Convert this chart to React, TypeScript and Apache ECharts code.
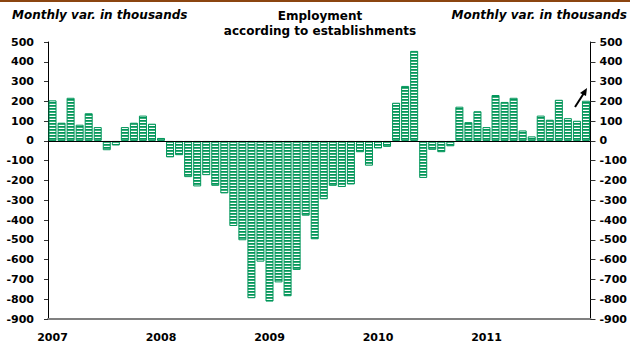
import React, { useEffect, useRef } from "react";
import * as echarts from "echarts";

const years = ["2007", "2008", "2009", "2010", "2011"];
const monthsPerYear = 12;

const employmentChange = [
  205, 92, 218, 82, 140, 70, -47, -23, 70, 92, 128, 87,
  15, -83, -72, -183, -230, -173, -227, -265, -430, -502, -795, -610,
  -812, -715, -785, -652, -378, -497, -295, -227, -233, -220, -57, -125,
  -38, -30, 193, 278, 455, -187, -45, -57, -27, 173, 95, 150,
  70, 232, 197, 218, 53, 23, 128, 107, 208, 115, 102, 203,
];

const yMin = -900;
const yMax = 500;
const yStep = 100;

const title = "Employment\naccording to establishments";
const unitLabel = "Monthly var. in thousands";

const GREEN = "#00965a";

function makeStripes(): HTMLCanvasElement {
  const c = document.createElement("canvas");
  c.width = 4;
  c.height = 3;
  const ctx = c.getContext("2d")!;
  ctx.fillStyle = "#ffffff";
  ctx.fillRect(0, 0, 4, 3);
  ctx.fillStyle = GREEN;
  ctx.fillRect(0, 0, 4, 1);
  ctx.fillStyle = "#3aab78";
  ctx.fillRect(0, 1, 4, 1);
  return c;
}

export default function App() {
  const ref = useRef<HTMLDivElement>(null);
  useEffect(() => {
    document.body.style.margin = "0";
    if (!ref.current) return;
    const chart = echarts.init(ref.current, undefined, { renderer: "svg" });
    const categories: string[] = [];
    years.forEach((y) => {
      for (let m = 1; m <= monthsPerYear; m++) categories.push(`${y}-${m}`);
    });
    const font = "'DejaVu Sans', Verdana, sans-serif";
    const yLabel = { fontSize: 11, fontWeight: "bold", color: "#000", fontFamily: font };
    chart.setOption({
      animation: false,
      backgroundColor: "#fff",
      grid: { left: 48, right: 37, top: 42, bottom: 26, containLabel: false },
      xAxis: {
        type: "category",
        data: categories,
        axisLine: { onZero: false, lineStyle: { color: "#808080", width: 2 } },
        axisTick: { show: false },
        axisLabel: {
          interval: (idx: number) => idx % monthsPerYear === 0,
          formatter: (v: string) => v.split("-")[0],
          fontSize: 11,
          fontWeight: "bold",
          color: "#000",
          fontFamily: font,
          margin: 13,
        },
        splitLine: { show: false },
      },
      yAxis: [
        {
          type: "value",
          min: yMin,
          max: yMax,
          interval: yStep,
          position: "left",
          axisLine: { show: true, lineStyle: { color: "#000", width: 1 } },
          axisTick: { show: true, length: 4, lineStyle: { color: "#333" } },
          axisLabel: { ...yLabel, margin: 14 },
          splitLine: { show: false },
        },
        {
          type: "value",
          min: yMin,
          max: yMax,
          interval: yStep,
          position: "right",
          axisLine: { show: true, lineStyle: { color: "#000", width: 1 } },
          axisTick: { show: true, length: 5, lineStyle: { color: "#333" } },
          axisLabel: { ...yLabel, margin: 9 },
          splitLine: { show: false },
        },
      ],
      series: [
        {
          type: "bar",
          data: employmentChange,
          barWidth: 8,
          itemStyle: {
            color: { image: makeStripes(), repeat: "repeat" },
            borderColor: GREEN,
            borderWidth: 1,
          },
          markLine: {
            silent: true,
            symbol: "none",
            label: { show: false },
            lineStyle: { color: "#000", width: 1, type: "solid" },
            data: [{ yAxis: 0 }],
          },
        },
      ],
      graphic: [
        {
          type: "rect",
          left: 0,
          top: 0,
          shape: { width: 630, height: 2 },
          style: { fill: "#8b4510" },
        },
        {
          type: "text",
          left: 12,
          top: 9,
          style: {
            text: unitLabel,
            font: `italic bold 12px ${font}`,
            fill: "#000",
          },
        },
        {
          type: "text",
          right: 3,
          top: 9,
          style: {
            text: unitLabel,
            font: `italic bold 12px ${font}`,
            fill: "#000",
          },
        },
        {
          type: "text",
          x: 320,
          y: 8,
          style: {
            text: title,
            font: `bold 12px ${font}`,
            fill: "#000",
            align: "center",
            lineHeight: 15,
          },
        },
        {
          type: "line",
          shape: { x1: 575, y1: 107, x2: 584, y2: 93 },
          style: { stroke: "#000", lineWidth: 2 },
        },
        {
          type: "polygon",
          shape: { points: [[587, 88], [580, 93], [586, 96]] },
          style: { fill: "#000" },
        },
      ],
    });
    return () => chart.dispose();
  }, []);
  return <div ref={ref} style={{ width: 630, height: 345 }} />;
}
